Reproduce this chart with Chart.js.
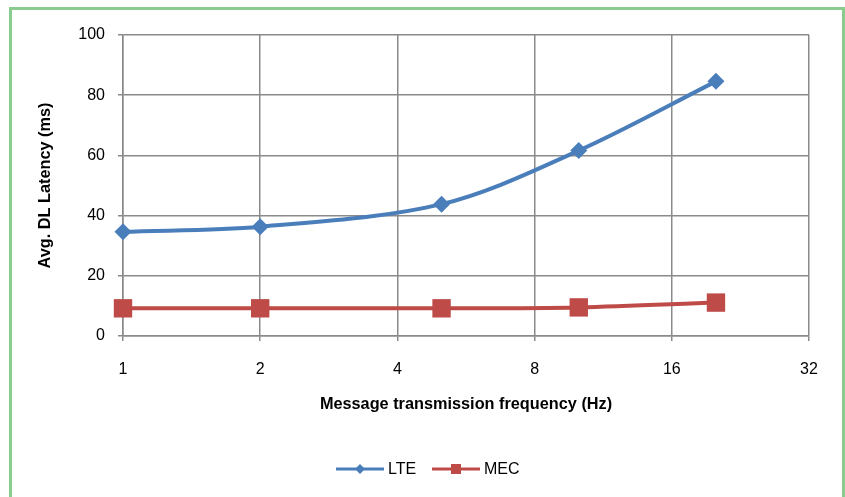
<!DOCTYPE html>
<html>
<head>
<meta charset="utf-8">
<script src="https://cdn.jsdelivr.net/npm/chart.js@4.4.1/dist/chart.umd.min.js"></script>
<style>
  html, body { margin: 0; padding: 0; background: #fff; }
  #wrap { position: relative; width: 845px; height: 497px; overflow: hidden; }
  #frame { position: absolute; left: 9px; top: 7px; width: 830px; height: 520px; border: 3px solid #8acb8e; }
  canvas { position: absolute; left: 0; top: 0; }
</style>
</head>
<body>
<div id="wrap">
  <div id="frame"></div>
  <canvas id="myChart" width="845" height="497"></canvas>
</div>
<script>
// message frequency (Hz) on a log2 axis
const freq = [1, 2, 5, 10, 20]
const lte = [34.6, 36.3, 43.8, 61.6, 84.6]
const mec = [9.2, 9.2, 9.2, 9.5, 11.1]
const xTicks = [1, 2, 4, 8, 16, 32]
const yTicks = [0, 20, 40, 60, 80, 100]

const FONT = "'Liberation Sans', Arial, sans-serif"
const GRID = '#8a8a8a'

// legend with a short line and the marker in the middle
const lineLegend = {
  id: 'lineLegend',
  afterDraw(chart) {
    const ctx = chart.ctx
    const y = 469
    const items = [{ x: 336, text: 'LTE' }, { x: 432, text: 'MEC' }]
    ctx.save()
    chart.data.datasets.forEach((ds, i) => {
      const it = items[i]
      ctx.strokeStyle = ds.borderColor
      ctx.lineWidth = 3
      ctx.beginPath()
      ctx.moveTo(it.x, y)
      ctx.lineTo(it.x + 48, y)
      ctx.stroke()
      ctx.fillStyle = ds.borderColor
      const cx = it.x + 24
      if (ds.pointStyle === 'rectRot') {
        ctx.beginPath()
        ctx.moveTo(cx, y - 5)
        ctx.lineTo(cx + 5, y)
        ctx.lineTo(cx, y + 5)
        ctx.lineTo(cx - 5, y)
        ctx.closePath()
        ctx.fill()
      } else {
        ctx.fillRect(cx - 5, y - 5, 10, 10)
      }
      ctx.fillStyle = '#000'
      ctx.font = '16px ' + FONT
      ctx.textBaseline = 'middle'
      ctx.textAlign = 'left'
      ctx.fillText(ds.label, it.x + 52, y + 1)
    })
    ctx.restore()
  }
}

const data = {
  datasets: [
    {
      label: 'LTE',
      data: freq.map((f, i) => ({ x: f, y: lte[i] })),
      borderColor: '#4a7ebb',
      backgroundColor: '#4a7ebb',
      borderWidth: 4,
      pointStyle: 'rectRot',
      pointRadius: 8.5,
      pointBorderWidth: 0,
      tension: 0.33,
      clip: false
    },
    {
      label: 'MEC',
      data: freq.map((f, i) => ({ x: f, y: mec[i] })),
      borderColor: '#be4b48',
      backgroundColor: '#be4b48',
      borderWidth: 4,
      pointStyle: 'rect',
      pointRadius: 13,
      pointBorderWidth: 0,
      tension: 0.33,
      clip: false
    }
  ]
}

const config = {
  type: 'line',
  data: data,
  plugins: [lineLegend],
  options: {
    responsive: false,
    animation: false,
    layout: { padding: { left: 0, right: 36, top: 35, bottom: 0 } },
    plugins: { legend: { display: false }, tooltip: { enabled: false } },
    scales: {
      x: {
        type: 'logarithmic',
        min: 1,
        max: 32,
        afterBuildTicks: (s) => { s.ticks = xTicks.map(v => ({ value: v })) },
        afterFit: (s) => { s.height = 161 },
        ticks: {
          autoSkip: false,
          maxRotation: 0,
          padding: 19,
          color: '#000',
          font: { family: FONT, size: 16 },
          callback: (v) => String(v)
        },
        grid: { color: GRID, lineWidth: 1.5, tickLength: 5, tickColor: GRID },
        border: { color: GRID, width: 1.5 },
        title: {
          display: true,
          text: 'Message transmission frequency (Hz)',
          color: '#000',
          font: { family: FONT, size: 16.3, weight: 'bold' },
          padding: { top: 0, bottom: 83 }
        }
      },
      y: {
        min: 0,
        max: 100,
        afterBuildTicks: (s) => { s.ticks = yTicks.map(v => ({ value: v })) },
        afterFit: (s) => { s.width = 123 },
        ticks: {
          padding: 13,
          color: '#000',
          font: { family: FONT, size: 16 }
        },
        grid: { color: GRID, lineWidth: 1.5, tickLength: 5, tickColor: GRID },
        border: { color: GRID, width: 1.5 },
        title: {
          display: true,
          text: 'Avg. DL Latency (ms)',
          color: '#000',
          font: { family: FONT, size: 16.3, weight: 'bold' },
          padding: { top: 36, bottom: 0 }
        }
      }
    }
  }
}

new Chart(document.getElementById('myChart'), config)
</script>
</body>
</html>
